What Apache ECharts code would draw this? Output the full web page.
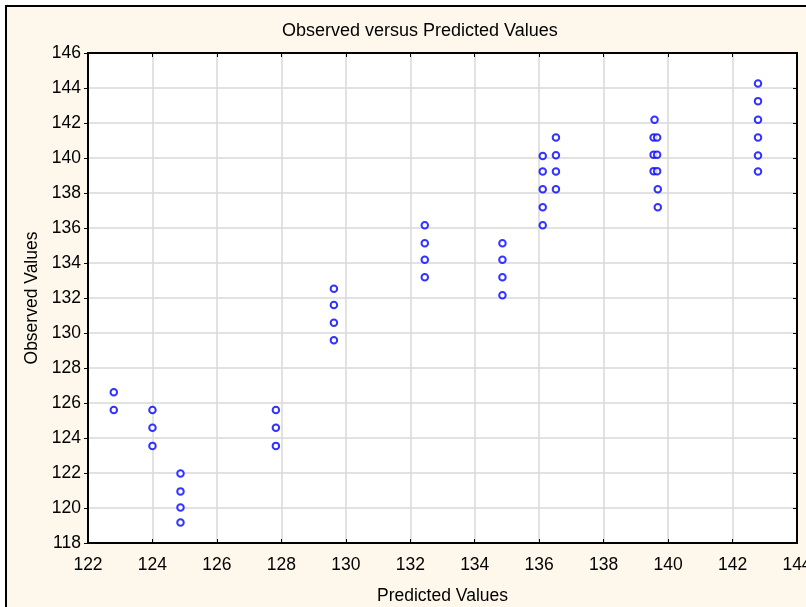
<!DOCTYPE html>
<html>
<head>
<meta charset="utf-8">
<style>html,body{margin:0;padding:0;background:#fff;}#c{width:806px;height:607px;}</style>
<script src="https://cdn.jsdelivr.net/npm/echarts@6/dist/echarts.min.js"></script>
</head>
<body>
<div id="c"></div>
<script>
var titleText = "Observed versus Predicted Values";
var xName = "Predicted Values";
var yName = "Observed Values";
var xTicks = [122,124,126,128,130,132,134,136,138,140,142,144];
var yTicks = [118,120,122,124,126,128,130,132,134,136,138,140,142,144,146];

var predicted = [
  122.8, 122.8,
  124.0, 124.0, 124.0,
  124.87, 124.87, 124.87, 124.87,
  127.83, 127.83, 127.83,
  129.63, 129.63, 129.63, 129.63,
  132.45, 132.45, 132.45, 132.45,
  134.86, 134.86, 134.86, 134.86,
  136.11, 136.11, 136.11, 136.11, 136.11,
  136.52, 136.52, 136.52, 136.52,
  139.58, 139.55, 139.66, 139.55, 139.66, 139.55, 139.66, 139.68, 139.68,
  142.79, 142.79, 142.79, 142.79, 142.79, 142.79
];
var observed = [
  126.62, 125.6,
  125.6, 124.58, 123.55,
  121.97, 120.95, 120.03, 119.17,
  125.6, 124.58, 123.55,
  132.53, 131.6, 130.59, 129.58,
  136.16, 135.13, 134.19, 133.19,
  135.13, 134.19, 133.19, 132.16,
  140.12, 139.23, 138.22, 137.19, 136.16,
  141.17, 140.16, 139.23, 138.22,
  142.18, 141.17, 141.17, 140.18, 140.18, 139.25, 139.25, 138.22, 137.19,
  144.26, 143.25, 142.18, 141.17, 140.14, 139.23
];

var points = predicted.map(function (p, i) { return [p, observed[i]]; });

var font = "Liberation Sans, Arial, sans-serif";
var chart = echarts.init(document.getElementById('c'), null, {renderer: 'canvas'});
chart.setOption({
  backgroundColor: '#ffffff',
  animation: false,
  graphic: [{
    type: 'rect', z: -10, silent: true,
    shape: {x: 6, y: 6, width: 900, height: 700},
    style: {fill: '#fef8ec', stroke: '#000', lineWidth: 2}
  }],
  title: {
    text: titleText, left: 277, top: 17,
    textStyle: {fontFamily: font, fontSize: 18, fontWeight: 'normal', color: '#000'}
  },
  grid: {
    left: 88, right: 9, top: 53, bottom: 64,
    outerBoundsMode: 'none',
    containLabel: false,
    show: true, backgroundColor: '#ffffff', borderColor: '#000', borderWidth: 2
  },
  xAxis: [{
    type: 'value', min: xTicks[0], max: xTicks[xTicks.length - 1], interval: 2,
    name: xName, nameLocation: 'middle', nameGap: 44,
    nameTextStyle: {fontFamily: font, fontSize: 17.5, color: '#000'},
    axisLine: {show: true, lineStyle: {color: '#000', width: 2}},
    axisTick: {show: true, inside: true, length: 4, lineStyle: {color: '#000'}},
    axisLabel: {fontFamily: font, fontSize: 17.5, color: '#000', margin: 13},
    splitLine: {show: true, lineStyle: {color: '#d9d9d9', width: 1.5}}
  }, {
    type: 'value', position: 'top', min: xTicks[0], max: xTicks[xTicks.length - 1], interval: 2,
    axisLine: {show: true, lineStyle: {color: '#000', width: 2}},
    axisTick: {show: true, inside: true, length: 4, lineStyle: {color: '#000'}},
    axisLabel: {show: false}, splitLine: {show: false}
  }],
  yAxis: [{
    type: 'value', min: yTicks[0], max: yTicks[yTicks.length - 1], interval: 2,
    name: yName, nameLocation: 'middle', nameGap: 44, nameRotate: 90,
    nameTextStyle: {fontFamily: font, fontSize: 17.5, color: '#000'},
    axisLine: {show: true, lineStyle: {color: '#000', width: 2}},
    axisTick: {show: true, inside: false, length: 4, lineStyle: {color: '#000'}},
    axisLabel: {fontFamily: font, fontSize: 17.5, color: '#000', margin: 7},
    splitLine: {show: true, lineStyle: {color: '#d9d9d9', width: 1.5}}
  }, {
    type: 'value', position: 'right', min: yTicks[0], max: yTicks[yTicks.length - 1], interval: 2,
    axisLine: {show: true, lineStyle: {color: '#000', width: 2}},
    axisTick: {show: true, inside: true, length: 4, lineStyle: {color: '#000'}},
    axisLabel: {show: false}, splitLine: {show: false}
  }],
  series: [{
    type: 'scatter',
    data: points,
    symbol: 'emptyCircle',
    symbolSize: 6.5,
    itemStyle: {color: '#0000ff', borderColor: '#0000ff', borderWidth: 1.8}
  }]
});
</script>
</body>
</html>
